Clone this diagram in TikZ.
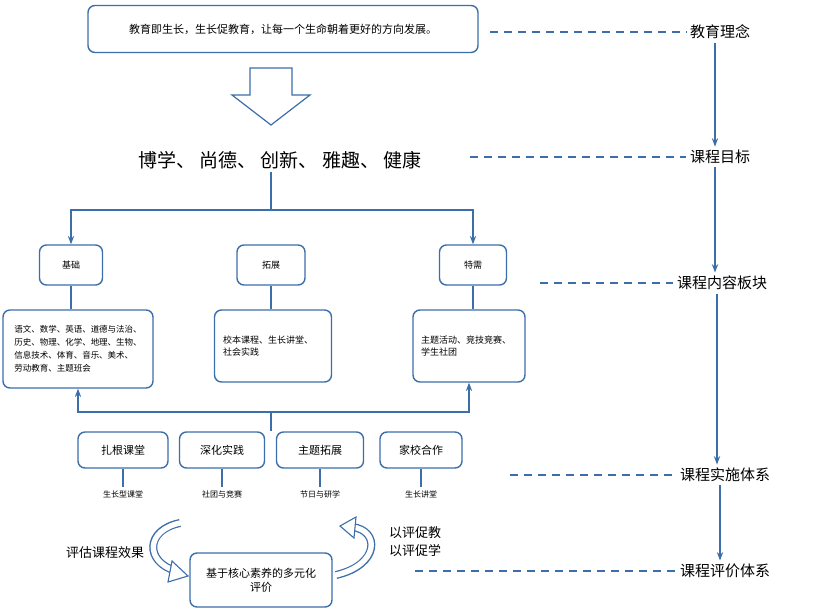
\documentclass[tikz,border=0pt]{standalone}
\usepackage{fontspec}
\setmainfont{Noto Sans CJK SC}
\usetikzlibrary{arrows.meta,positioning}
\definecolor{frameblue}{RGB}{60,110,170}
\begin{document}
\begin{tikzpicture}[x=1pt,y=-1pt,>=Stealth,
  box/.style={draw=frameblue,line width=1.4pt,rounded corners=7pt,fill=white},
  link/.style={draw=frameblue,line width=1.2pt},
  guide/.style={draw=frameblue,line width=1.2pt,dashed,dash pattern=on 8pt off 6pt},
  tag/.style={font=\fontsize{15}{18}\selectfont},
  small/.style={font=\fontsize{9}{12}\selectfont},
  hollowout/.style={draw=frameblue,line width=8pt},
  hollowin/.style={draw=white,line width=5.4pt,shorten <=-1pt},
  hollowtip/.style={draw=frameblue,fill=white,line width=1.1pt}]
  \useasboundingbox (0,0) rectangle (824,612);
  % top
  \node[box,minimum width=390,minimum height=47,font=\fontsize{11}{13}\selectfont] (idea) at (283,29) {教育即生长，生长促教育，让每一个生命朝着更好的方向发展。};
  \draw[frameblue,line width=1.2pt,fill=white] (250,68) -- (292,68) -- (292,95) -- (310,95) -- (271,125) -- (232,95) -- (250,95) -- cycle;
  \node[font=\fontsize{19}{22}\selectfont] (goal) at (280,160) {博学、\ 尚德、\ 创新、\ 雅趣、\ 健康};
  % modules
  \node[box,minimum width=63,minimum height=40,small] (base) at (71,265) {基础};
  \node[box,minimum width=68,minimum height=40,small] (ext) at (271,265) {拓展};
  \node[box,minimum width=67,minimum height=40,small] (spec) at (473,265) {特需};
  \node[box,minimum width=150,minimum height=78,font=\fontsize{8.5}{13}\selectfont,align=left,inner sep=3pt] (basec) at (78,349)
    {语文、数学、英语、道德与法治、\\历史、物理、化学、地理、生物、\\信息技术、体育、音乐、美术、\\劳动教育、主题班会};
  \node[box,minimum width=117,minimum height=72,small,align=left,text width=100] (extc) at (273,346) {校本课程、生长讲堂、\\社会实践};
  \node[box,minimum width=112,minimum height=72,small,align=left,text width=96] (specc) at (469,346) {主题活动、竞技竞赛、\\学生社团};
  \coordinate (split) at (271,210);
  \draw[link] (goal.south -| split) -- (split);
  \draw[link,->] (split) -| (base.north);
  \draw[link,->] (split) -| (spec.north);
  \draw[link] (base.south) -- (base.south |- basec.north);
  \draw[link] (ext.south) -- (ext.south |- extc.north);
  \draw[link] (spec.south) -- (spec.south |- specc.north);
  % practice
  \coordinate (join) at (271,412);
  \node[box,minimum width=90,minimum height=36,font=\fontsize{11}{13}\selectfont] (p1) at (123,450) {扎根课堂};
  \node[box,minimum width=85,minimum height=36,font=\fontsize{11}{13}\selectfont] (p2) at (222,450) {深化实践};
  \node[box,minimum width=87,minimum height=36,font=\fontsize{11}{13}\selectfont] (p3) at (320,450) {主题拓展};
  \node[box,minimum width=82,minimum height=36,font=\fontsize{11}{13}\selectfont] (p4) at (421,450) {家校合作};
  \draw[link,->] (join) -| (basec.south);
  \draw[link,->] (join) -| (specc.south);
  \draw[link] (join) -- (join |- p3.north);
  \foreach \n/\t in {p1/生长型课堂,p2/社团与竞赛,p3/节日与研学,p4/生长讲堂}{
    \node[font=\fontsize{8}{10}\selectfont] (\n l) at ([yshift=-26]\n.south) {\t};
    \draw[link] (\n.south) -- (\n l.north);
  }
  % evaluation
  \node[box,minimum width=142,minimum height=54,align=center,font=\fontsize{11}{14}\selectfont] (eval) at (261,580) {基于核心素养的多元化\\评价};
  \draw[hollowout] (180,523) .. controls (145,530) and (145,562) .. (176,571);
  \draw[hollowin] (180,523) .. controls (145,530) and (145,562) .. (176,571);
  \draw[hollowtip] (172,561) -- (188,576) -- (168,582) -- cycle;
  \draw[hollowout] (336,575) .. controls (380,565) and (380,530) .. (352,527);
  \draw[hollowin] (336,575) .. controls (380,565) and (380,530) .. (352,527);
  \draw[hollowtip] (356,517) -- (340,526) -- (354,538) -- cycle;
  \node[font=\fontsize{13}{16}\selectfont] (effect) at (105,553) {评估课程效果};
  \node[align=left,font=\fontsize{13}{18}\selectfont] (promote) at (415,542) {以评促教\\以评促学};
  % right column
  \node[tag] (r1) at (720,32) {教育理念};
  \node[tag] (r2) at (720,157) {课程目标};
  \node[tag] (r3) at (722,283) {课程内容板块};
  \node[tag] (r4) at (725,475) {课程实施体系};
  \node[tag] (r5) at (725,571) {课程评价体系};
  \draw[guide] (490,0 |- r1.west) -- (r1.west);
  \draw[guide] (470,0 |- r2.west) -- (r2.west);
  \draw[guide] (540,0 |- r3.west) -- (r3.west);
  \draw[guide] (510,0 |- r4.west) -- (r4.west);
  \draw[guide] (415,0 |- r5.west) -- (r5.west);
  \foreach \a/\b in {r1/r2,r2/r3,r3/r4,r4/r5}
    \draw[link,->] ([xshift=-5]\a.south) -- ([xshift=-5]\a.south |- \b.north);
\end{tikzpicture}
\end{document}
